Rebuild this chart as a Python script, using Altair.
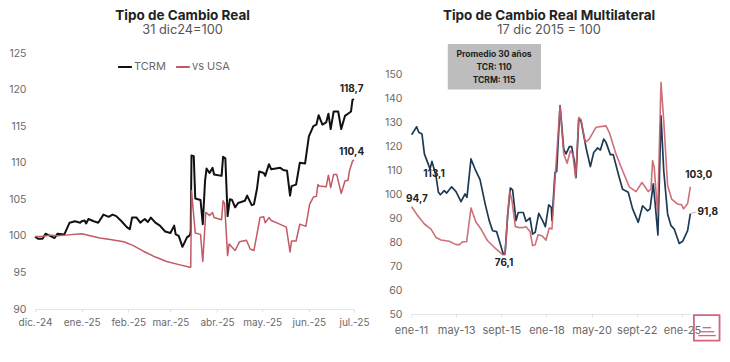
import altair as alt
import pandas as pd

FONT = "Inter"
GREY = "#6a6a6a"

# ---------- left panel: days since 1 Dec 2024 ----------
tcrm_days = [0,2,5,7,10,13,15,19.5,23,26.6,30,31,33,34,35.5,39,42,45.5,49,51.5,54,57.5,61,63,64.5,67.5,70,71,73,75,77,80,83,86.5,90,92.5,93.5,95.5,98,101,103,103.5,104,105.5,106.5,110,111.5,113,114,116,118,119,124,125,126.5,128,129.5,131,133,135,139.5,141,144,145.5,147.5,149,152,153,155.5,157,163,165,167.5,169.5,170.5,173.5,176,179.5,182,185,187,188.5,191,193.5,195,196.5,198.5,201.5,203.5,206,208,210,211,212]
tcrm_vals = [99.9,99.6,99.6,100.3,100,99.7,100.3,100.2,101.8,102,101.8,102,102.1,101.7,102.3,102,101.8,102.9,102.6,102.9,102.7,102,101.2,100.9,102.5,102.5,101.8,102,102.3,101.9,102.5,101.8,101.4,100.6,100.4,101.4,100.2,100,98.5,99.8,100.1,100.7,111,110.9,105.1,104.9,101.6,107.5,109.2,108.6,109.3,108.4,108.2,110.8,110.6,102.7,105,104.9,103.9,104.5,104.8,105.5,104.2,104.3,106.4,108.8,108.6,108.2,109.8,109.1,109.3,109,108.9,105.5,106.8,107,110,109.9,113.6,115,115.2,116.5,115.2,115.5,116.7,114.6,117,117,114.6,116.4,116.7,117,118.6,118.7]
usa_days = [0,5,10,15,20,31,43,50,59,65,72,80,87.5,95,103,103.5,104,106.5,110,111.5,113.5,116,118,119,124,125,126,128,129,133,136,140.5,143,145.5,147.5,149.5,152,153,155.5,157,161.5,167,169.5,170.5,173.5,176,180,182.5,185,187,188,189,193.5,195,196.5,198.5,200.5,203.5,206,208,209,211,212]
usa_vals = [99.9,99.9,100.1,100,100.1,100.3,99.7,99.5,99.2,98.7,97.9,97.1,96.5,96.1,95.7,95.7,106.2,100.4,100.2,96.5,103.2,102.8,103.2,102.5,102.2,104.8,104.4,97.3,98.9,98,99.2,99.4,98.2,98,100.2,102.5,102.6,101.8,102.5,102.1,101.7,101.2,97.8,99.3,99.3,101.6,101.3,104.3,105.3,105.4,107,106.8,106.7,108.3,106.6,108.4,108.4,105.8,107.5,107.6,108.9,110.2,110.4]
left_ticks = [0,31,62,90,121,151,182,212]
left_labels = ["dic.-24","ene.-25","feb.-25","mar.-25","abr.-25","may.-25","jun.-25","jul.-25"]
left_note_x = [210.4,210.4]
left_note_y = [120.1,111.4]
left_note_t = ["118,7","110,4"]

# ---------- right panel: months since Jan 2011 ----------
tcr_m = [0.4,2,3.5,4.8,6.8,8.3,9.7,11.8,13,15.5,17,18.2,20.6,22.1,25.2,27.9,31,33.5,34.7,37.2,39.7,42.8,46,48.5,50.6,53.1,57.2,58.3,60,61.6,63,65.1,66.5,69.6,71.3,73.8,75.4,77,79.2,81.6,83.3,85.4,87,87.4,89.3,90.3,92.4,94.7,96.1,98.2,99.6,101.2,102.3,104,105.4,108.5,111.2,113.3,115.7,117.4,119.5,120.9,123.6,125.4,129.1,131.2,134.7,137.4,140.9,143.6,146.7,148.2,150.2,151.3,153.1,155,156.7,159.1,161.2,163.2,166.3,168.4,171.5,173.2]
tcr_v = [124.7,126.4,128,125.7,125,116.7,114.2,110.4,113.6,107.6,100.7,99.7,101.4,100.4,103,101,96.8,100,98.6,114.6,110.4,106,95.8,88.9,84.7,84.3,75,75,91.7,102.5,101.7,88.9,92.3,92.3,88.6,90,83.3,84,91.9,88.9,86.4,95.5,94.4,88.9,109,109.4,136.8,118.7,116.7,119.7,119.7,113.9,106.9,131.2,130.5,119.4,111.4,117.3,119.2,118.3,122.9,121.5,116.4,116.4,106.9,102,100.7,93.8,88.2,95.1,93,93.8,104.2,96.5,82.9,132.6,109.7,91.7,86.8,85.4,79.4,80.3,84.7,91.8]
multi_m = [0.4,4.1,8.3,12.4,15.5,18.6,23.7,27.9,30,32,34.5,37.2,40.3,43.4,47.5,52.7,56.8,58.3,60,61.2,62.6,64.7,66.5,69.6,71.3,73.8,75.4,77,78.8,81.2,83.7,85.7,87.4,89.3,92.4,94.7,96.8,98.8,100.3,102.1,104,105.4,108.1,110.5,114.7,120.9,122.9,127.1,131.2,135.3,139.5,143.2,147.1,148.8,149.8,150.8,152.9,155,156.7,159.1,161.6,165.3,167.8,169,171.5,173.2]
multi_v = [94.7,91,87.5,85.4,81.9,80.8,80.3,78.9,78.9,80.1,80.1,94.2,88.2,85.4,80.5,77.1,74.7,74.7,92,101,97.2,86.4,86.1,86,86.4,84.4,78.5,78.9,83,82.6,80.8,85.8,85.4,106.3,136.8,116.7,112.8,118,116.7,106.7,131.9,131,121.5,122.9,127.8,128.4,125.7,116.7,109.7,103,101,104.8,101,102.1,113.9,111.1,91.7,146.5,130.5,103.5,97.9,95.8,95.5,93.8,96,103]
right_ticks = [0,28,56,84,112,140,168]
right_labels = ["ene-11","may-13","sept-15","ene-18","may-20","sept-22","ene-25"]
right_note_x = [3.7,14.3,57.7,178.4,184]
right_note_y = [98,108.5,71.4,108,92.3]
right_note_t = ["94,7","113,1","76,1","103,0","91,8"]
box_t = ["Promedio 30 años","TCR: 110","TCRM: 115"]
box_y = [158.5,152.8,147.6]


def x_axis(ticks, labels, size, pad):
    return alt.Axis(
        title=None, values=ticks, grid=False,
        labelExpr=f"{labels}[indexof({ticks}, datum.value)]",
        labelFont=FONT, labelFontSize=size, labelColor=GREY, labelPadding=pad,
        labelFlush=False, labelOverlap=False,
        domainColor="#e4e4e4", tickColor="#e4e4e4", tickSize=3,
    )


def y_axis(ticks, pad):
    return alt.Axis(
        title=None, values=ticks, grid=False, domain=False, ticks=False, labelOverlap=False,
        labelFont=FONT, labelFontSize=10.5, labelColor=GREY, labelPadding=pad,
    )


def heading_layers(x, ys, texts, ex, ey):
    head = pd.DataFrame({"x": [x], "y": [ys[0]], "t": [texts[0]]})
    sub = pd.DataFrame({"x": [x], "y": [ys[1]], "t": [texts[1]]})
    return [
        alt.Chart(head).mark_text(font=FONT, fontSize=13.5, fontWeight="bold", color="#222222").encode(
            x=ex, y=ey, text="t:N"),
        alt.Chart(sub).mark_text(font=FONT, fontSize=12.8, color="#555555").encode(
            x=ex, y=ey, text="t:N"),
    ]


# ---------- left chart ----------
lx = alt.X("x:Q", axis=x_axis(left_ticks, left_labels, 10, 5),
           scale=alt.Scale(domain=[0, 212], nice=False))
ly = alt.Y("y:Q", axis=y_axis(list(range(90, 126, 5)), 9),
           scale=alt.Scale(domain=[90, 125], nice=False))
lcolor = alt.Color("s:N", scale=alt.Scale(domain=["TCRM", "vs USA"], range=["#111111", "#c25a64"]),
                   legend=alt.Legend(title=None, orient="none", legendX=82, legendY=6,
                                     direction="horizontal", symbolType="stroke",
                                     symbolSize=190, symbolStrokeWidth=2, labelFont=FONT,
                                     labelFontSize=11, labelColor=GREY, columnPadding=6,
                                     labelOffset=1))
ldf1 = pd.DataFrame({"x": tcrm_days, "y": tcrm_vals, "s": "TCRM"})
ldf2 = pd.DataFrame({"x": usa_days, "y": usa_vals, "s": "vs USA"})
lnotes = pd.DataFrame({"x": left_note_x, "y": left_note_y, "t": left_note_t})
left = alt.layer(
    alt.Chart(ldf1).mark_line(strokeWidth=2, strokeJoin="round").encode(x=lx, y=ly, color=lcolor),
    alt.Chart(ldf2).mark_line(strokeWidth=1.5, strokeJoin="round").encode(x=lx, y=ly, color=lcolor),
    alt.Chart(lnotes).mark_text(font=FONT, fontSize=10, fontWeight="bold", color="#222222").encode(
        x=lx, y=ly, text="t:N"),
    *heading_layers(98.1, [130.09, 128.18], ["Tipo de Cambio Real", "31 dic24=100"], lx, ly),
).properties(width=319, height=256)

# ---------- right chart ----------
rx = alt.X("x:Q", axis=x_axis(right_ticks, right_labels, 11, 7),
           scale=alt.Scale(domain=[0, 173.6], nice=False))
ry = alt.Y("y:Q", axis=y_axis(list(range(50, 151, 10)), 9),
           scale=alt.Scale(domain=[50, 158.75], nice=False))
rdf1 = pd.DataFrame({"x": tcr_m, "y": tcr_v})
rdf2 = pd.DataFrame({"x": multi_m, "y": multi_v})
rnotes = pd.DataFrame({"x": right_note_x, "y": right_note_y, "t": right_note_t})
box = pd.DataFrame({"x": [22.8], "x2": [80.6], "y": [162.5], "y2": [143.5]})
boxt = pd.DataFrame({"x": [51.5] * 3, "y": box_y, "t": box_t})
logo = pd.DataFrame({"x": [175.4], "x2": [191.3], "y": [49.5], "y2": [38.9]})
logo_lines = pd.DataFrame({"x": [180.8, 178.7, 178.1], "x2": [186, 188, 189], "y": [44.3, 42.6, 41]})
leader = pd.DataFrame({"x": [173.4, 177], "y": [91.9, 92.5]})

right = alt.layer(
    alt.Chart(box).mark_rect(color="#bdbdbd").encode(x=rx, x2="x2:Q", y=ry, y2="y2:Q"),
    alt.Chart(boxt).mark_text(font=FONT, fontSize=8.5, fontWeight="bold", color="#222222").encode(
        x=rx, y=ry, text="t:N"),
    alt.Chart(rdf1).mark_line(strokeWidth=1.7, color="#1d3a55", strokeJoin="round").encode(x=rx, y=ry),
    alt.Chart(rdf2).mark_line(strokeWidth=1.6, color="#c9606a", opacity=0.9, strokeJoin="round").encode(x=rx, y=ry),
    alt.Chart(leader).mark_line(strokeWidth=1, color="#bbbbbb").encode(x=rx, y=ry),
    alt.Chart(rnotes).mark_text(font=FONT, fontSize=10, fontWeight="bold", color="#222222").encode(
        x=rx, y=ry, text="t:N"),
    alt.Chart(logo).mark_rect(fill="white", fillOpacity=0.0, stroke="#d4637c", strokeWidth=1.8).encode(
        x=rx, x2="x2:Q", y=ry, y2="y2:Q"),
    alt.Chart(logo_lines).mark_rule(stroke="#d4637c", strokeWidth=1.3).encode(x=rx, x2="x2:Q", y=ry),
    *heading_layers(85.6, [174.3, 168.5], ["Tipo de Cambio Real Multilateral", "17 dic 2015 = 100"], rx, ry),
).properties(width=280, height=261)

chart = alt.hconcat(left, right, spacing=14).properties(
    padding={"left": 0, "top": 0, "right": 0, "bottom": 0}
).configure_view(stroke=None)

chart.save("out.html", embed_options={"renderer": "svg", "actions": False})
